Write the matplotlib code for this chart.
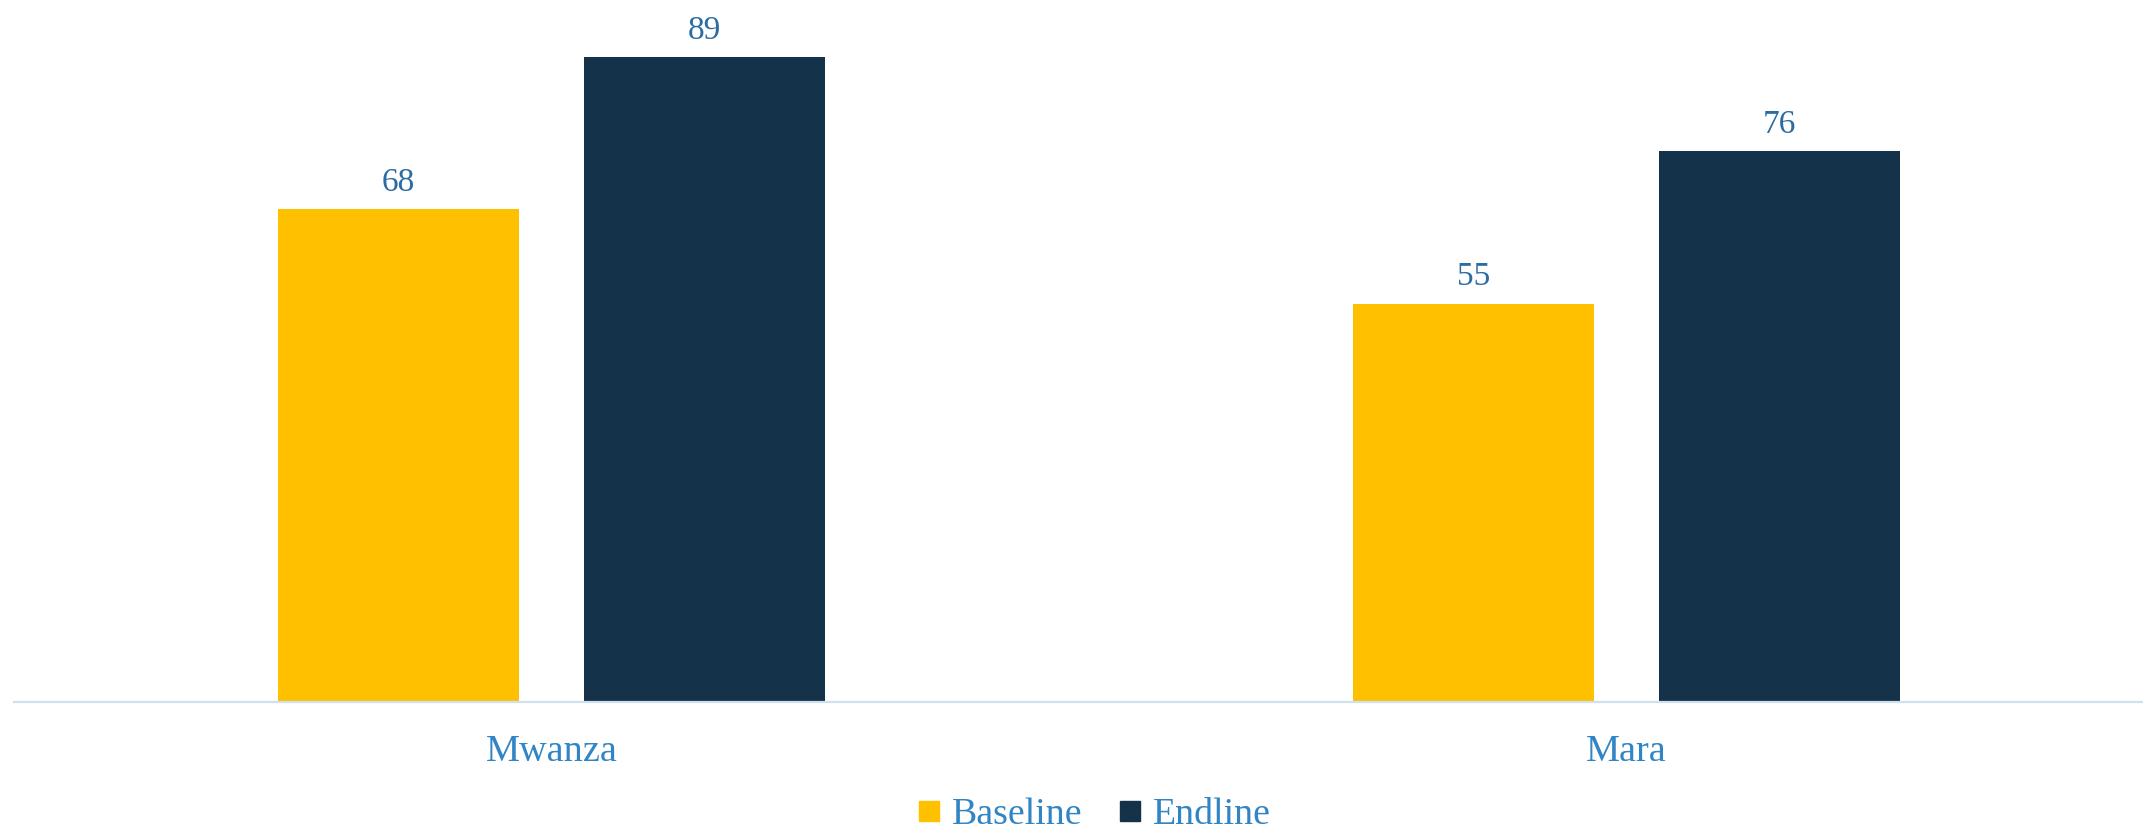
import matplotlib
matplotlib.use("Agg")
import matplotlib.pyplot as plt
from matplotlib.lines import Line2D
from matplotlib.transforms import blended_transform_factory
import numpy as np

categories = ["Mwanza", "Mara"]
series_names = ["Baseline", "Endline"]
baseline = [68, 55]
endline = [89, 76]
colors = ["#FFC000", "#14324A"]

FONT = ["Liberation Serif", "DejaVu Serif"]
plt.rcParams["font.family"] = FONT

W, H = 2143, 832
fig = plt.figure(figsize=(W / 100, H / 100), dpi=100)
ax_left = 14 / W
ax_bottom = (H - 702) / H
ax = fig.add_axes([ax_left, ax_bottom, 1 - ax_left, 1 - ax_bottom])

x = np.arange(len(categories))
bw = 0.2242
off = 0.1423
series = [baseline, endline]
for i, (vals, col) in enumerate(zip(series, colors)):
    pos = x + (-off if i == 0 else off)
    bars = ax.bar(pos, vals, width=bw, color=col, zorder=2)
    for b, v in zip(bars, vals):
        ax.annotate(f"{v}", xy=(b.get_x() + b.get_width() / 2, v),
                    xytext=(0, 13.0), textcoords="offset points",
                    ha="center", va="baseline", fontsize=24,
                    color="#2b6ca3")

ax.set_xlim(-0.5, 1.4805)
ax.set_ylim(0, 96.9)
for s in ["top", "right", "left"]:
    ax.spines[s].set_visible(False)
ax.spines["bottom"].set_color("#cfe0ef")
ax.spines["bottom"].set_linewidth(1.6)
ax.spines["bottom"].set_zorder(3)
ax.set_yticks([])
ax.set_xticks([])

trans = blended_transform_factory(ax.transData, fig.transFigure)
for xi, c in zip(x, categories):
    ax.text(xi, (H - 760.7) / H, c, transform=trans, ha="center",
            va="baseline", fontsize=27.5, color="#3185c5")

handles = [Line2D([0], [0], marker="s", linestyle="none", markersize=15,
                  markerfacecolor=c, markeredgecolor=c) for c in colors]
fig.legend(handles, series_names, loc="center",
           bbox_to_anchor=(1094 / W, (H - 815) / H), ncol=2, frameon=False,
           fontsize=27.3, labelcolor="#3185c5", handlelength=0.6,
           handletextpad=0.3, columnspacing=0.95, borderpad=0,
           borderaxespad=0)

fig.savefig("out.png", dpi=100)
